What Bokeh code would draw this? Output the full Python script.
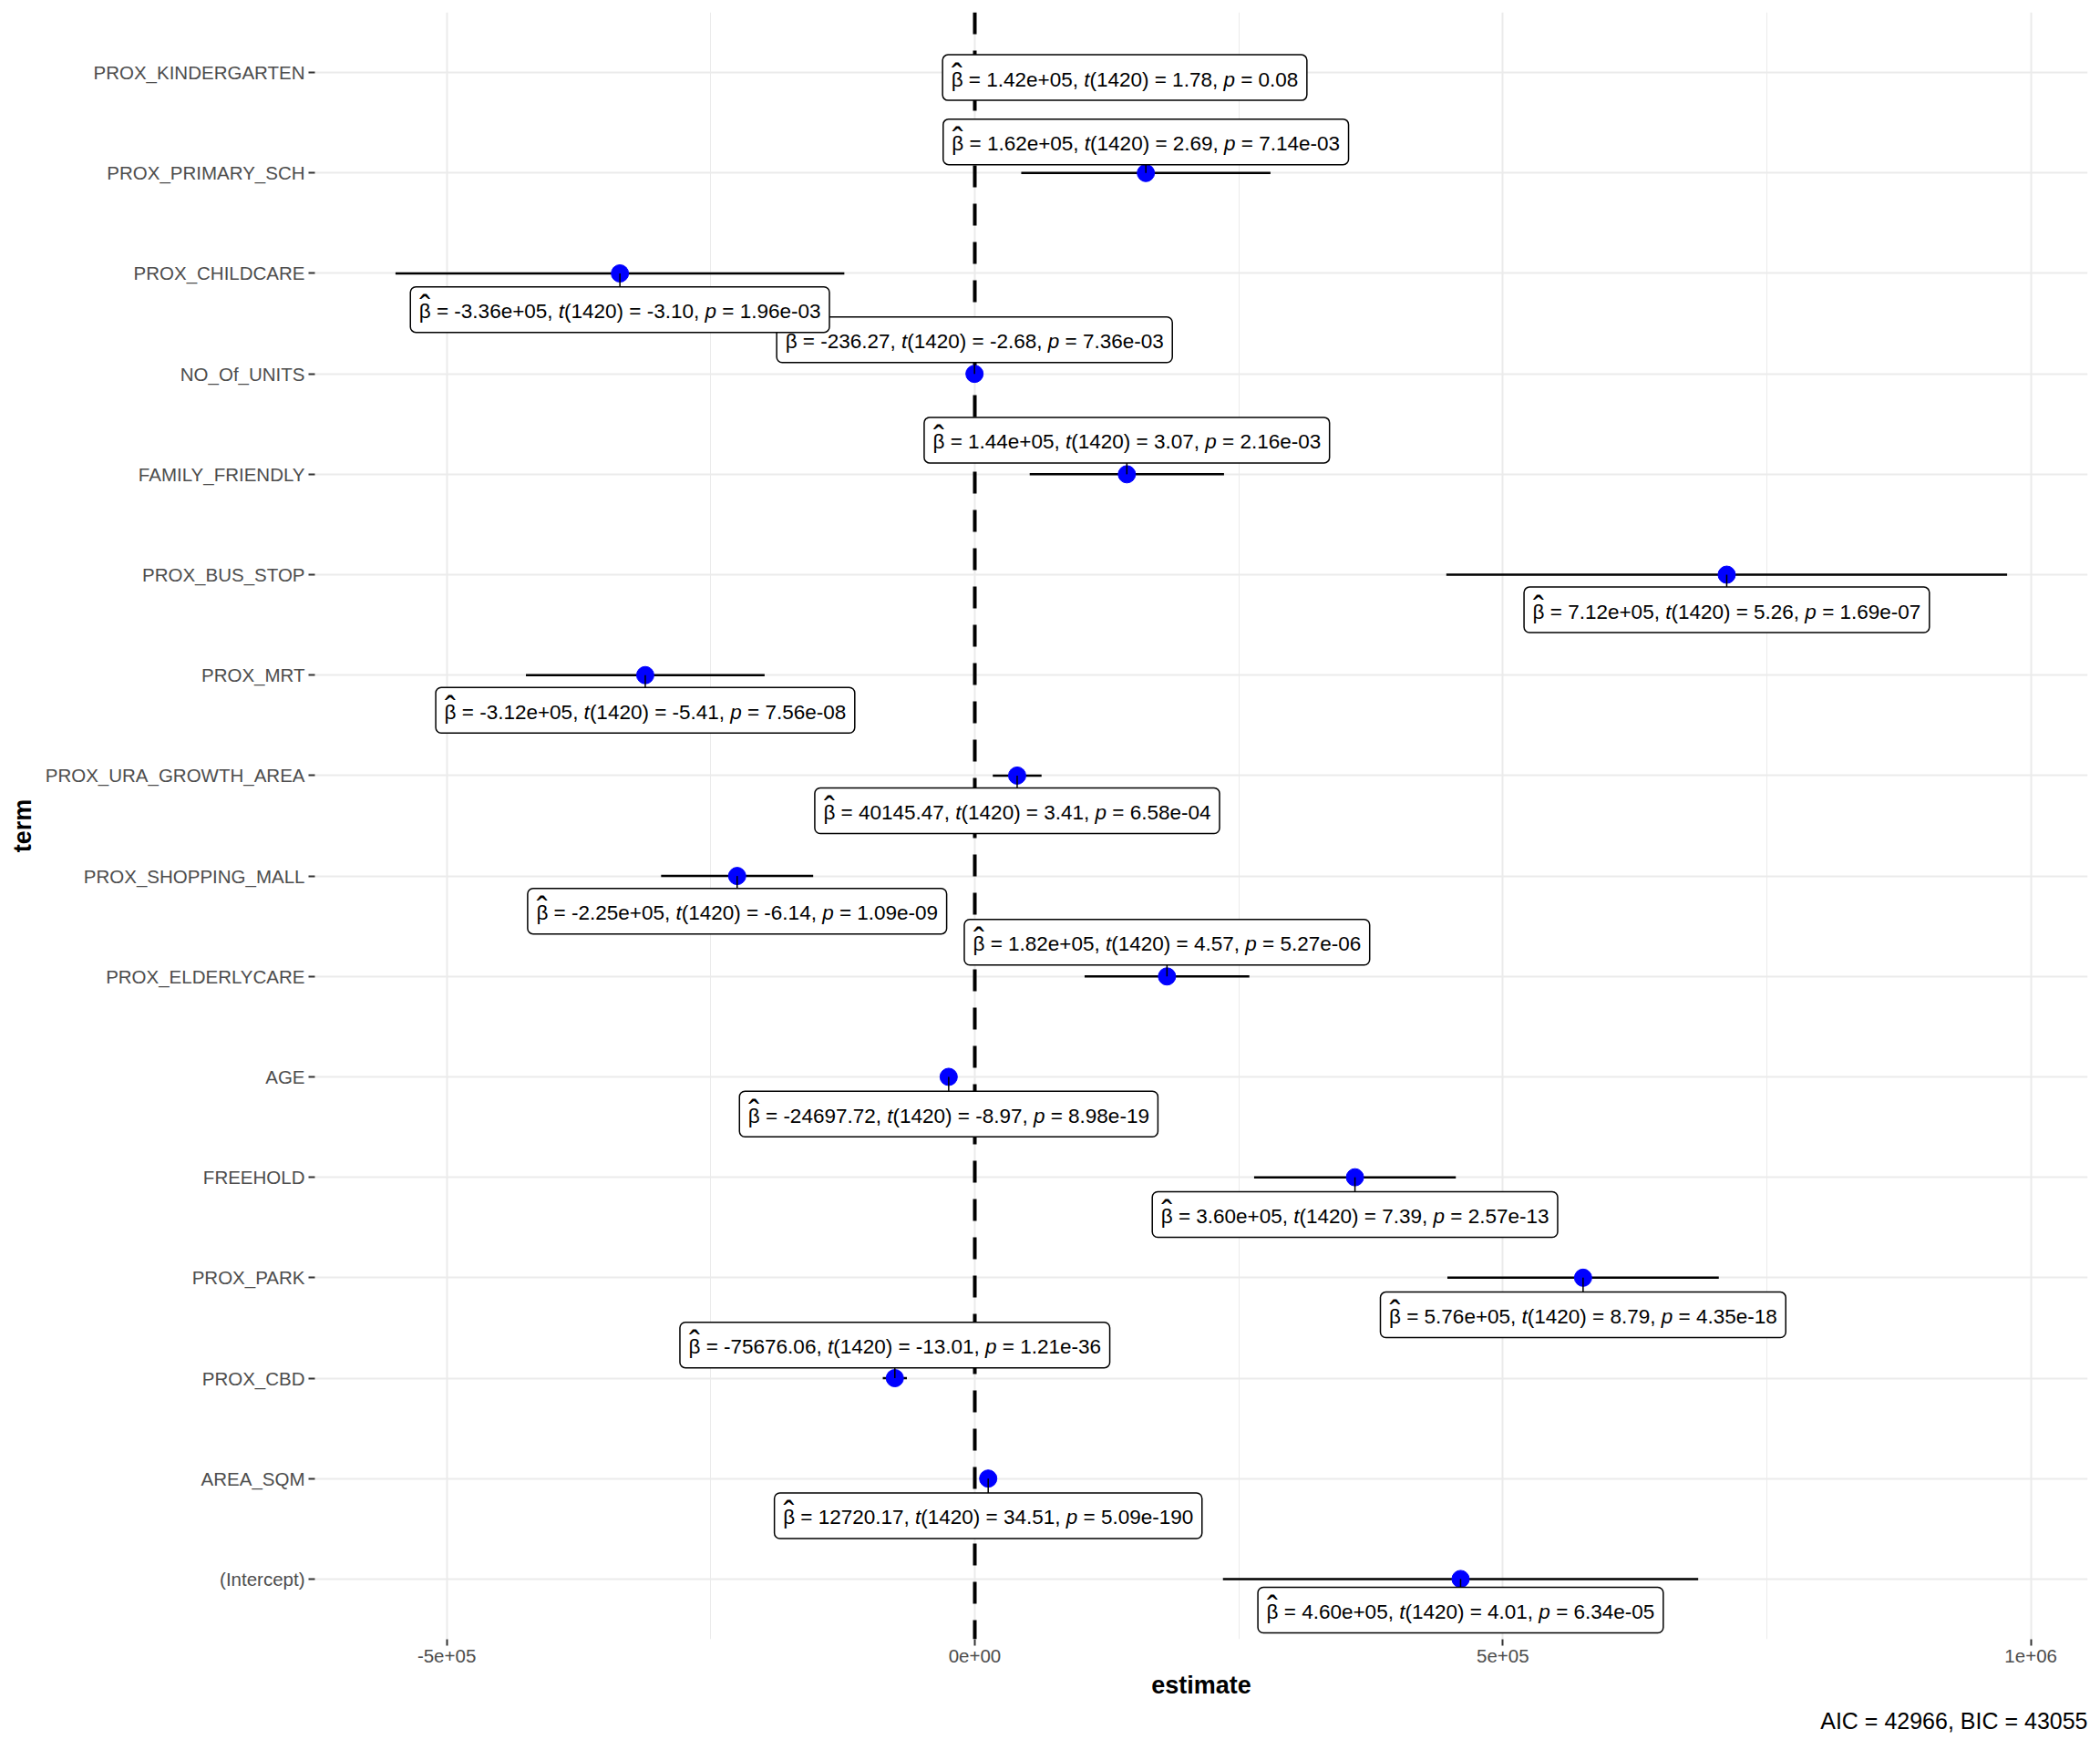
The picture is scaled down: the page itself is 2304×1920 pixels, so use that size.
from bokeh.plotting import figure
from bokeh.models import ColumnDataSource, FactorRange, Range1d, FixedTicker, Title, Rect
from bokeh.embed import file_html
from bokeh.resources import INLINE
from bokeh.core.properties import value

# ---------------- data ----------------
terms = ["PROX_KINDERGARTEN", "PROX_PRIMARY_SCH", "PROX_CHILDCARE", "NO_Of_UNITS",
         "FAMILY_FRIENDLY", "PROX_BUS_STOP", "PROX_MRT", "PROX_URA_GROWTH_AREA",
         "PROX_SHOPPING_MALL", "PROX_ELDERLYCARE", "AGE", "FREEHOLD", "PROX_PARK",
         "PROX_CBD", "AREA_SQM", "(Intercept)"]
estimate = [1.42e5, 1.62e5, -3.36e5, -236.27, 1.44e5, 7.12e5, -3.12e5, 40145.47,
            -2.25e5, 1.82e5, -24697.72, 3.60e5, 5.76e5, -75676.06, 12720.17, 4.60e5]
t_stat = [1.78, 2.69, -3.10, -2.68, 3.07, 5.26, -5.41, 3.41,
          -6.14, 4.57, -8.97, 7.39, 8.79, -13.01, 34.51, 4.01]
p_value = [0.08, 7.14e-03, 1.96e-03, 7.36e-03, 2.16e-03, 1.69e-07, 7.56e-08, 6.58e-04,
           1.09e-09, 5.27e-06, 8.98e-19, 2.57e-13, 4.35e-18, 1.21e-36, 5.09e-190, 6.34e-05]
ci_low = [-14500, 44000, -548500, -409, 52000, 446500, -425000, 17050,
          -297000, 104000, -30100, 264500, 447500, -87090, 12000, 235000]
ci_high = [298500, 280000, -123500, -63, 236000, 977500, -199000, 63240,
           -153000, 260000, -19300, 455500, 704500, -64270, 13440, 685000]
df_resid = 1420
aic = 42966
bic = 43055

x_ticks = [-500000, 0, 500000, 1000000]
x_tick_labels = ["-5e+05", "0e+00", "5e+05", "1e+06"]
x_minor = [-250000, 250000, 750000]

# ---------------- layout of the repelled labels (rows, + = below) ----------------
label_shift = [0.05, -0.31, 0.36, -0.34, -0.34, 0.35, 0.35, 0.35,
               0.35, -0.34, 0.37, 0.37, 0.37, -0.33, 0.37, 0.31]

FONT = "Liberation Sans"
FS = 22.5          # label font size (px)
PAD_X = 9.5        # label box horizontal padding (px)
BOX_H = 50         # label box height (px)
BASE_OFF = 2       # text baseline shift (px)
HAT_OFF = -2       # hat shift (px)

# advance widths (em) of Arial / Liberation Sans glyphs used in the labels
ADV = {c: 0.556 for c in "0123456789ep"}
ADV.update({".": 0.278, ",": 0.278, " ": 0.278, "=": 0.584, "+": 0.584,
            "-": 0.333, "t": 0.278, "(": 0.333, ")": 0.333, "\u03b2": 0.575})


def tw(s):
    return sum(ADV.get(c, 0.556) for c in s) * FS


def fmt_est(v):
    return f"{v:.2e}" if abs(v) >= 1e5 else f"{v:.2f}"


def fmt_p(v):
    return f"{v:.2e}" if v < 0.01 else f"{v:.2f}"


SP = ADV[" "] * FS

src = ColumnDataSource(dict(term=terms, est=estimate, lo=ci_low, hi=ci_high))

lo = min(ci_low)
hi = max(ci_high)
pad = 0.05 * (hi - lo)

p = figure(width=2304, height=1920,
           y_range=FactorRange(factors=terms[::-1], range_padding=0.1,
                               range_padding_units="absolute"),
           x_range=Range1d(lo - pad, hi + pad),
           output_backend="svg", toolbar_location=None, title=None,
           min_border_left=345, min_border_right=14, min_border_top=13,
           min_border_bottom=122)
p.outline_line_color = None
p.background_fill_color = "white"
p.border_fill_color = "white"

# grids
p.xgrid.ticker = FixedTicker(ticks=x_ticks, minor_ticks=x_minor)
p.xgrid.grid_line_color = "#EBEBEB"
p.xgrid.grid_line_width = 2
p.xgrid.minor_grid_line_color = "#EBEBEB"
p.xgrid.minor_grid_line_width = 1
p.ygrid.grid_line_color = "#EBEBEB"
p.ygrid.grid_line_width = 2

# axes
p.xaxis.ticker = FixedTicker(ticks=x_ticks)
p.xaxis.major_label_overrides = {k: v for k, v in zip(x_ticks, x_tick_labels)}
for ax in (p.xaxis[0], p.yaxis[0]):
    ax.axis_line_color = None
    ax.major_tick_in = 0
    ax.major_tick_out = 7
    ax.major_tick_line_color = "#333333"
    ax.major_tick_line_width = 2
    ax.minor_tick_line_color = None
    ax.major_label_text_font = FONT
    ax.major_label_text_font_size = "20.5px"
    ax.major_label_text_color = "#4D4D4D"
    ax.major_label_standoff = 4
    ax.axis_label_text_font = FONT
    ax.axis_label_text_font_size = "27px"
    ax.axis_label_text_font_style = "bold"
    ax.axis_label_text_color = "black"
    ax.axis_label_standoff = 7
p.xaxis.axis_label = "estimate"
p.yaxis.axis_label = "term"

# reference line at zero
p.vspan(x=[0], line_color="black", line_width=4, line_dash="24 18")

# confidence intervals and estimates
p.segment(x0="lo", y0="term", x1="hi", y1="term", source=src,
          line_color="black", line_width=2.5)
p.scatter(x="est", y="term", source=src, size=19, fill_color="#0000FF",
          line_color="#0000FF")

rect_kw = dict(fill_color="white", line_color="black", line_width=1.5)
if "border_radius" in Rect.properties():
    rect_kw["border_radius"] = 6
common = dict(text_font=value(FONT), text_font_size=f"{FS}px", text_color="black",
              text_align="left", text_baseline="alphabetic", y_offset=BASE_OFF)

# labels, drawn in model order (intercept first) so later ones sit on top
for i in reversed(range(len(terms))):
    term, e, t, pv, s = terms[i], estimate[i], t_stat[i], p_value[i], label_shift[i]
    ly = (term, -s)
    tokens = [("\u03b2", False, True), ("=", False, True), (fmt_est(e) + ",", False, True),
              ("t", True, False), (f"({df_resid})", False, True), ("=", False, True),
              (f"{t:.2f},", False, True), ("p", True, True), ("=", False, True),
              (fmt_p(pv), False, False)]
    total = sum(tw(tok) + (SP if sp else 0) for tok, _, sp in tokens)
    norm = dict(x=[], y=[], text=[], xo=[])
    ital = dict(x=[], y=[], text=[], xo=[])
    cur = -total / 2
    for tok, it, sp in tokens:
        d = ital if it else norm
        d["x"].append(e)
        d["y"].append(ly)
        d["text"].append(tok)
        d["xo"].append(cur)
        cur += tw(tok) + (SP if sp else 0)

    # leader
    p.segment(x0=[e], y0=[term], x1=[e], y1=[ly], line_color="black", line_width=1.5)
    # box
    p.rect(x=[e], y=[ly], width=total + 2 * PAD_X, height=BOX_H,
           width_units="screen", height_units="screen", **rect_kw)
    # texts
    p.text(x="x", y="y", text="text", x_offset="xo", source=ColumnDataSource(norm),
           text_font_style="normal", **common)
    p.text(x="x", y="y", text="text", x_offset="xo", source=ColumnDataSource(ital),
           text_font_style="italic", **common)
    p.text(x=[e], y=[ly], text=["\u02c6"], x_offset=-total / 2 + tw("\u03b2") / 2,
           text_font=value(FONT), text_font_size="36px", text_color="black",
           text_align="center", text_baseline="alphabetic", y_offset=HAT_OFF)

# caption
p.add_layout(Title(text=f"AIC = {aic}, BIC = {bic}", align="right",
                   text_font=FONT, text_font_size="25px",
                   text_font_style="normal", text_color="black"), "below")

open("out.html", "w").write(file_html(p, INLINE))
